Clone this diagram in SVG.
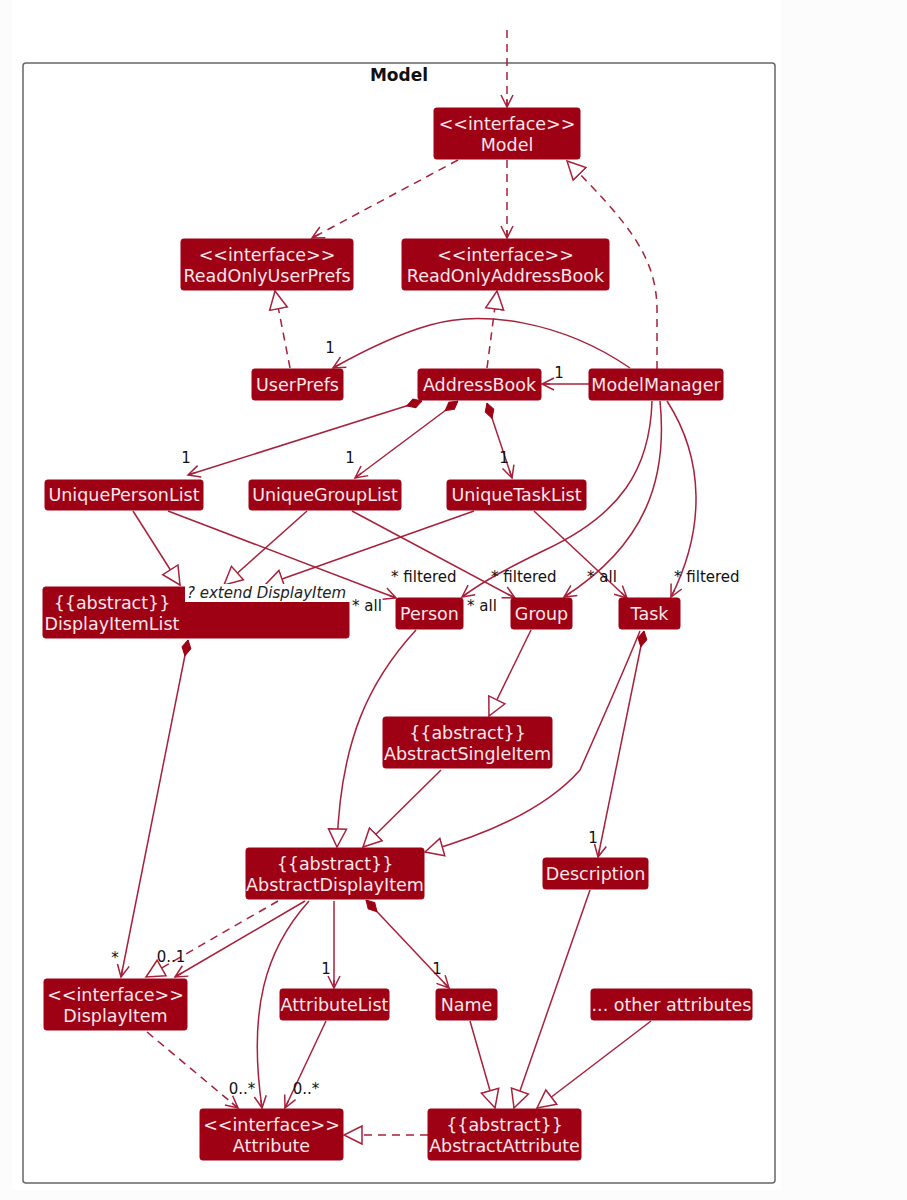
<svg xmlns="http://www.w3.org/2000/svg" width="907" height="1200" viewBox="0 0 907 1200">
<defs>
<style>
.bg{fill:#fcfcfc}
.n rect{fill:#9e0014;stroke:#9e0014;stroke-width:1}
.n text{fill:#fbe6ea;font-family:"DejaVu Sans",sans-serif;font-size:17.5px;text-anchor:middle}
.c path,.c line{fill:none;stroke:#a8203a;stroke-width:1.5}
.d{stroke-dasharray:8,6}
.lb{font-family:"DejaVu Sans",sans-serif;font-size:15px;fill:#111}
</style>
<marker id="ar" markerUnits="userSpaceOnUse" markerWidth="16" markerHeight="16" refX="13" refY="7" orient="auto" viewBox="0 0 16 14">
<path d="M1,1 L13,7 L1,13 M5,7 L13,7" fill="none" stroke="#a8203a" stroke-width="1.5"/>
</marker>
<marker id="tr" markerUnits="userSpaceOnUse" markerWidth="22" markerHeight="22" refX="19" refY="10" orient="auto" viewBox="0 0 22 20">
<path d="M1,1 L19,10 L1,19 Z" fill="#fff" stroke="#a8203a" stroke-width="1.5"/>
</marker>
<marker id="di" markerUnits="userSpaceOnUse" markerWidth="18" markerHeight="12" refX="0" refY="5" orient="auto" viewBox="0 0 18 10">
<path d="M0,5 L8,0.5 L16,5 L8,9.5 Z" fill="#9e0014" stroke="#9e0014" stroke-width="1"/>
</marker>
</defs>
<rect class="bg" x="0" y="0" width="907" height="1200"/>
<rect x="12" y="0" width="769" height="1190" fill="#fff"/>
<rect x="23" y="63" width="752" height="1120" rx="3" fill="#fff" stroke="#666" stroke-width="1.5"/>
<text x="399" y="81" font-family="DejaVu Sans, sans-serif" font-size="17" font-weight="bold" text-anchor="middle" fill="#111">Model</text>

<g class="c" id="connectors">
<path class="d" d="M507,30 L507,107" marker-end="url(#ar)"/>
<path class="d" d="M458,160 L312,238" marker-end="url(#ar)"/>
<path class="d" d="M507,160 L507,238" marker-end="url(#ar)"/>
<path class="d" d="M657,369 L657,310 C657,255 625,220 567,161" marker-end="url(#tr)"/>
<path class="d" d="M290,368 L275,291" marker-end="url(#tr)"/>
<path class="d" d="M487,368 L497,291" marker-end="url(#tr)"/>
<path d="M630,368 C560,320 480,310 430,325 C395,335 365,350 333,368" marker-end="url(#ar)"/>
<path d="M589,384 L542,384" marker-end="url(#ar)"/>
<path d="M422,401 L188,475" marker-start="url(#di)" marker-end="url(#ar)"/>
<path d="M458,401 L355,478" marker-start="url(#di)" marker-end="url(#ar)"/>
<path d="M487,403 L512,478" marker-start="url(#di)" marker-end="url(#ar)"/>
<path d="M133,511 L180,585" marker-end="url(#tr)"/>
<path d="M307,511 L224,585" marker-end="url(#tr)"/>
<path d="M474,511 L265,585" marker-end="url(#tr)"/>
<path d="M168,511 L396,598" marker-end="url(#ar)"/>
<path d="M352,511 L515,598" marker-end="url(#ar)"/>
<path d="M534,511 L627,598" marker-end="url(#ar)"/>
<path d="M652,401 C650,470 620,515 545,550 C510,567 485,580 462,597" marker-end="url(#ar)"/>
<path d="M660,401 C668,480 645,545 564,597" marker-end="url(#ar)"/>
<path d="M667,401 C705,460 705,530 671,597" marker-end="url(#ar)"/>
<path d="M531,630 L489,716" marker-end="url(#tr)"/>
<path d="M416,630 C370,680 340,740 337,847" marker-end="url(#tr)"/>
<path d="M441,770 L363,847" marker-end="url(#tr)"/>
<path d="M640,631 C620,680 600,725 580,770 C545,810 485,835 425,852" marker-end="url(#tr)"/>
<path d="M644,631 L598,857" marker-start="url(#di)" marker-end="url(#ar)"/>
<path d="M188,640 L121,977" marker-start="url(#di)" marker-end="url(#ar)"/>
<path class="d" d="M278,901 L146,977" marker-end="url(#tr)"/>
<path d="M305,901 L175,977" marker-end="url(#ar)"/>
<path d="M309,901 C265,950 248,1010 262,1108" marker-end="url(#ar)"/>
<path d="M334,901 L334,988" marker-end="url(#ar)"/>
<path d="M366,900 L449,988" marker-start="url(#di)" marker-end="url(#ar)"/>
<path class="d" d="M147,1032 L238,1108" marker-end="url(#ar)"/>
<path d="M326,1021 L285,1108" marker-end="url(#ar)"/>
<path class="d" d="M428,1135 L344,1135" marker-end="url(#tr)"/>
<path d="M470,1021 L495,1108" marker-end="url(#tr)"/>
<path d="M590,890 L514,1108" marker-end="url(#tr)"/>
<path d="M651,1021 L537,1108" marker-end="url(#tr)"/>
</g>

<g id="labels">
<text class="lb" x="330" y="353" text-anchor="middle">1</text>
<text class="lb" x="559" y="378" text-anchor="middle">1</text>
<text class="lb" x="186" y="463" text-anchor="middle">1</text>
<text class="lb" x="350" y="463" text-anchor="middle">1</text>
<text class="lb" x="504" y="463" text-anchor="middle">1</text>
<text class="lb" x="352" y="611">* all</text>
<text class="lb" x="391" y="582">* filtered</text>
<text class="lb" x="467" y="611">* all</text>
<text class="lb" x="491" y="582">* filtered</text>
<text class="lb" x="587" y="582">* all</text>
<text class="lb" x="674" y="582">* filtered</text>
<text class="lb" x="593" y="843" text-anchor="middle">1</text>
<text class="lb" x="115" y="963" text-anchor="middle">*</text>
<text class="lb" x="171" y="962" text-anchor="middle">0..1</text>
<text class="lb" x="326" y="974" text-anchor="middle">1</text>
<text class="lb" x="437" y="974" text-anchor="middle">1</text>
<text class="lb" x="242" y="1094" text-anchor="middle">0..*</text>
<text class="lb" x="306" y="1094" text-anchor="middle">0..*</text>
</g>

<g class="n" id="Model"><rect x="434" y="108" width="146" height="51" rx="2.5"/><text x="507" y="130">&lt;&lt;interface&gt;&gt;</text><text x="507" y="151">Model</text></g>
<g class="n" id="ReadOnlyUserPrefs"><rect x="181" y="239" width="172" height="51" rx="2.5"/><text x="267" y="261">&lt;&lt;interface&gt;&gt;</text><text x="267" y="282">ReadOnlyUserPrefs</text></g>
<g class="n" id="ReadOnlyAddressBook"><rect x="402" y="239" width="207" height="51" rx="2.5"/><text x="505.5" y="261">&lt;&lt;interface&gt;&gt;</text><text x="505.5" y="282">ReadOnlyAddressBook</text></g>
<g class="n" id="UserPrefs"><rect x="252" y="369" width="91" height="31" rx="2.5"/><text x="297.5" y="391">UserPrefs</text></g>
<g class="n" id="AddressBook"><rect x="418" y="369" width="123" height="31" rx="2.5"/><text x="479.5" y="391">AddressBook</text></g>
<g class="n" id="ModelManager"><rect x="589" y="369" width="134" height="31" rx="2.5"/><text x="656" y="391">ModelManager</text></g>
<g class="n" id="UniquePersonList"><rect x="45" y="480" width="158" height="30" rx="2.5"/><text x="124" y="501">UniquePersonList</text></g>
<g class="n" id="UniqueGroupList"><rect x="249" y="480" width="152" height="30" rx="2.5"/><text x="325" y="501">UniqueGroupList</text></g>
<g class="n" id="UniqueTaskList"><rect x="447" y="480" width="139" height="30" rx="2.5"/><text x="516.5" y="501">UniqueTaskList</text></g>
<g class="n" id="DisplayItemList"><rect x="43" y="587" width="306" height="51" rx="2.5"/><rect x="185" y="584" width="167" height="18" style="fill:#fff;stroke:none"/><text x="112" y="609">{{abstract}}</text><text x="112" y="630">DisplayItemList</text><text x="187" y="598" style="fill:#222;font-size:15px;font-style:italic;text-anchor:start">? extend DisplayItem</text></g>
<g class="n" id="Person"><rect x="396" y="598" width="67" height="31" rx="2.5"/><text x="429.5" y="620">Person</text></g>
<g class="n" id="Group"><rect x="511" y="598" width="61" height="31" rx="2.5"/><text x="541.5" y="620">Group</text></g>
<g class="n" id="Task"><rect x="619" y="598" width="61" height="31" rx="2.5"/><text x="649.5" y="620">Task</text></g>
<g class="n" id="AbstractSingleItem"><rect x="383" y="717" width="169" height="51" rx="2.5"/><text x="467.5" y="739">{{abstract}}</text><text x="467.5" y="760">AbstractSingleItem</text></g>
<g class="n" id="AbstractDisplayItem"><rect x="246" y="848" width="178" height="51" rx="2.5"/><text x="335" y="870">{{abstract}}</text><text x="335" y="891">AbstractDisplayItem</text></g>
<g class="n" id="Description"><rect x="543" y="858" width="105" height="31" rx="2.5"/><text x="595.5" y="880">Description</text></g>
<g class="n" id="DisplayItem"><rect x="44" y="979" width="143" height="51" rx="2.5"/><text x="115.5" y="1001">&lt;&lt;interface&gt;&gt;</text><text x="115.5" y="1022">DisplayItem</text></g>
<g class="n" id="AttributeList"><rect x="280" y="989" width="109" height="31" rx="2.5"/><text x="334.5" y="1011">AttributeList</text></g>
<g class="n" id="Name"><rect x="436" y="989" width="61" height="31" rx="2.5"/><text x="466.5" y="1011">Name</text></g>
<g class="n" id="OtherAttributes"><rect x="591" y="989" width="161" height="31" rx="2.5"/><text x="671.5" y="1011">... other attributes</text></g>
<g class="n" id="Attribute"><rect x="200" y="1109" width="143" height="51" rx="2.5"/><text x="271.5" y="1131">&lt;&lt;interface&gt;&gt;</text><text x="271.5" y="1152">Attribute</text></g>
<g class="n" id="AbstractAttribute"><rect x="428" y="1109" width="153" height="51" rx="2.5"/><text x="504.5" y="1131">{{abstract}}</text><text x="504.5" y="1152">AbstractAttribute</text></g>
</svg>
